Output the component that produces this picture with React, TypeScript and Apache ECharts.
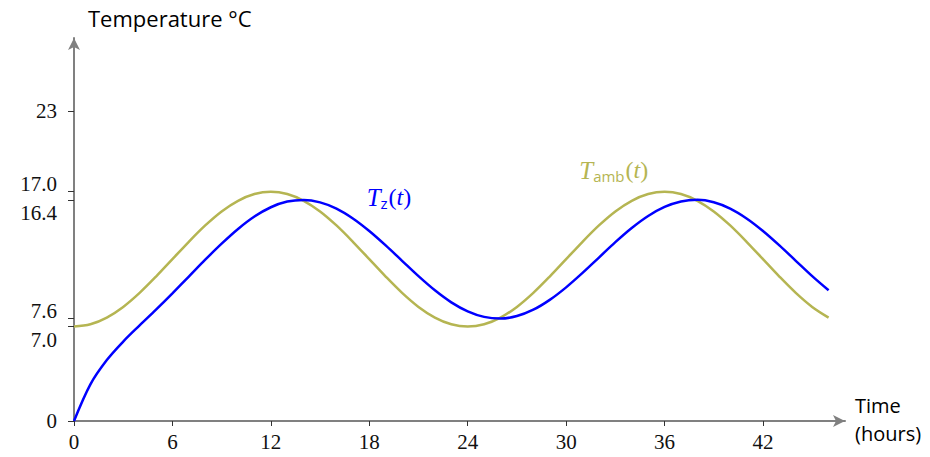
import React, { useEffect, useRef } from "react";
import * as echarts from "echarts";

const hours = [
  0, 1, 2, 3, 4, 5, 6, 7, 8, 9, 10, 11, 12, 13, 14, 15, 16, 17, 18, 19, 20, 21, 22, 23,
  24, 25, 26, 27, 28, 29, 30, 31, 32, 33, 34, 35, 36, 37, 38, 39, 40, 41, 42, 43, 44, 45, 46,
];
const tAmb = [
  7.0, 7.17, 7.67, 8.46, 9.5, 10.71, 12.0, 13.29, 14.5, 15.54, 16.33, 16.83, 17.0, 16.83,
  16.33, 15.54, 14.5, 13.29, 12.0, 10.71, 9.5, 8.46, 7.67, 7.17, 7.0, 7.17, 7.67, 8.46, 9.5,
  10.71, 12.0, 13.29, 14.5, 15.54, 16.33, 16.83, 17.0, 16.83, 16.33, 15.54, 14.5, 13.29, 12.0,
  10.71, 9.5, 8.46, 7.67,
];
const tZ = [
  0.0, 2.72, 4.52, 5.89, 7.09, 8.26, 9.47, 10.71, 11.96, 13.15, 14.24, 15.16, 15.85, 16.27,
  16.39, 16.21, 15.75, 15.02, 14.09, 13.02, 11.88, 10.74, 9.69, 8.8, 8.13, 7.72, 7.6, 7.78,
  8.25, 8.98, 9.91, 10.98, 12.12, 13.26, 14.31, 15.2, 15.87, 16.28, 16.4, 16.22, 15.75, 15.02,
  14.09, 13.02, 11.88, 10.74, 9.69,
];
const xTicks = [0, 6, 12, 18, 24, 30, 36, 42];
const yTicks = [0, 7.0, 7.6, 16.4, 17.0, 23];
const yTickText = ["0", "7.0", "7.6", "16.4", "17.0", "23"];
const yLabelShift = ["n", "dn", "up", "dn", "up", "n"];
const tzLabelAt = [19.2, 16.6];
const tAmbLabelAt = [32.9, 18.6];

const BLUE = "#0000ff";
const OLIVE = "#b5b552";
const GRAY = "#808080";
const SERIF = "'Liberation Serif', serif";
const SANS = "'Open Sans', 'Noto Sans', sans-serif";

export default function App() {
  const ref = useRef<HTMLDivElement>(null);
  useEffect(() => {
    document.body.style.margin = "0";
    const chart = echarts.init(ref.current!, null, { renderer: "svg" });
    const mathRich = (color: string) => ({
      T: { fontFamily: SERIF, fontStyle: "italic", fontSize: 25, color },
      s: { fontFamily: SANS, fontSize: 15, color, padding: [11, 1, 0, 0] },
      p: { fontFamily: SERIF, fontSize: 24, color },
      t: { fontFamily: SERIF, fontStyle: "italic", fontSize: 24, color },
    });
    chart.setOption({
      animation: false,
      grid: { left: 74, right: 85, top: 38, bottom: 36 },
      xAxis: {
        type: "value",
        min: 0,
        max: 47,
        splitLine: { show: false },
        axisLine: {
          lineStyle: { color: GRAY, width: 2 },
          symbol: ["none", "arrow"],
          symbolSize: [9, 12],
        },
        axisTick: { show: true, length: 5, lineStyle: { color: "#333", width: 1 }, customValues: xTicks },
        axisLabel: {
          customValues: xTicks,
          fontFamily: SERIF,
          fontSize: 21,
          color: "#111",
          margin: 10,
        },
      },
      yAxis: {
        type: "value",
        min: 0,
        max: 28.4,
        splitLine: { show: false },
        axisLine: {
          show: true,
          lineStyle: { color: GRAY, width: 2 },
          symbol: ["none", "arrow"],
          symbolSize: [9, 12],
        },
        axisTick: { show: true, length: 6, lineStyle: { color: "#333", width: 1 }, customValues: yTicks },
        axisLabel: {
          customValues: yTicks,
          fontFamily: SERIF,
          fontSize: 21,
          color: "#111",
          margin: 17,
          formatter: (v: number) => {
            let idx = 0;
            let best = Infinity;
            yTicks.forEach((t, i) => {
              if (Math.abs(t - v) < best) {
                best = Math.abs(t - v);
                idx = i;
              }
            });
            return `{${yLabelShift[idx]}|${yTickText[idx]}}`;
          },
          rich: {
            n: { fontFamily: SERIF, fontSize: 21, color: "#111" },
            up: { fontFamily: SERIF, fontSize: 21, color: "#111", padding: [0, 0, 16, 0] },
            dn: { fontFamily: SERIF, fontSize: 21, color: "#111", padding: [26, 0, 0, 0] },
          },
        },
      },
      graphic: [
        {
          type: "text",
          left: 88,
          top: 7,
          style: { text: "Temperature °C", fontFamily: SANS, fontSize: 22, fill: "#000" },
        },
        {
          type: "text",
          left: 855,
          top: 391,
          style: { text: "Time\n(hours)", fontFamily: SANS, fontSize: 20, lineHeight: 28, fill: "#000" },
        },
      ],
      series: [
        {
          type: "line",
          name: "Tamb",
          data: hours.map((h, i) => [h, tAmb[i]]),
          smooth: 0.33,
          showSymbol: false,
          lineStyle: { color: OLIVE, width: 2.5 },
          markPoint: {
            symbol: "circle",
            symbolSize: 0,
            data: [{ coord: tAmbLabelAt }],
            label: {
              show: true,
              position: "inside",
              formatter: "{T|T}{s|amb}{p|(}{t|t}{p|)}",
              rich: mathRich(OLIVE),
            },
          },
        },
        {
          type: "line",
          name: "Tz",
          data: hours.map((h, i) => [h, tZ[i]]),
          smooth: 0.33,
          showSymbol: false,
          lineStyle: { color: BLUE, width: 2.5 },
          markPoint: {
            symbol: "circle",
            symbolSize: 0,
            data: [{ coord: tzLabelAt }],
            label: {
              show: true,
              position: "inside",
              formatter: "{T|T}{s|z}{p|(}{t|t}{p|)}",
              rich: mathRich(BLUE),
            },
          },
        },
      ],
    });
    return () => chart.dispose();
  }, []);
  return <div ref={ref} style={{ width: 930, height: 457 }} />;
}
